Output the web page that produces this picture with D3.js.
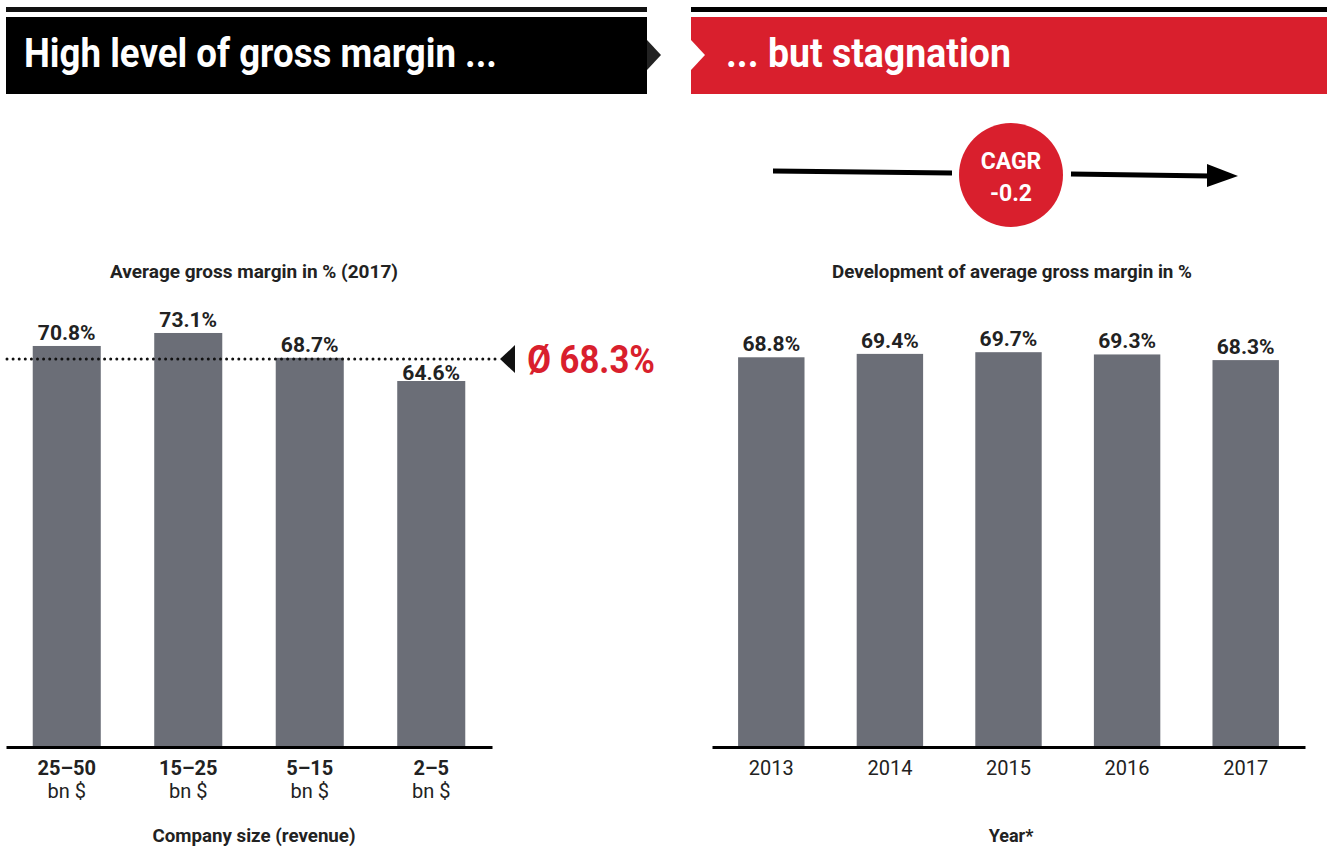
<!DOCTYPE html>
<html>
<head>
<meta charset="utf-8">
<script src="https://cdn.jsdelivr.net/npm/d3@7"></script>
<style>
  body { margin: 0; background: #fff; }
  text { font-family: Roboto, "Noto Sans", sans-serif; }
</style>
</head>
<body>
<div id="chart"></div>
<script>
// left chart: margin by company size (2017)
const sizeCats = ["25–50", "15–25", "5–15", "2–5"];
const sizeValues = [70.8, 73.1, 68.7, 64.6];
const sizeUnit = "bn $";
const average = 68.3;

// right chart: development by year
const years = ["2013", "2014", "2015", "2016", "2017"];
const yearValues = [68.8, 69.4, 69.7, 69.3, 68.3];
const cagr = "-0.2";

const width = 1327, height = 855;
const barColor = "#6b6e77", red = "#d91f2d", ink = "#222";

const svg = d3.select("#chart").append("svg")
    .attr("width", width)
    .attr("height", height);

// ---------- headers ----------
svg.append("rect").attr("x", 6).attr("y", 7).attr("width", 641).attr("height", 5).attr("fill", "#111");
svg.append("rect").attr("x", 6).attr("y", 17).attr("width", 641).attr("height", 77).attr("fill", "#000");
svg.append("path").attr("d", "M647,40 L661,55 L647,70 Z").attr("fill", "#222");
svg.append("text")
    .attr("x", 24).attr("y", 67)
    .attr("fill", "#fff").attr("font-size", 41).attr("font-weight", 700)
    .attr("textLength", 473).attr("lengthAdjust", "spacingAndGlyphs")
    .text("High level of gross margin ...");

svg.append("rect").attr("x", 691).attr("y", 7).attr("width", 636).attr("height", 5).attr("fill", "#000");
svg.append("rect").attr("x", 691).attr("y", 17).attr("width", 636).attr("height", 77).attr("fill", red);
svg.append("path").attr("d", "M691,40 L705,55 L691,70 Z").attr("fill", "#fff");
svg.append("text")
    .attr("x", 726).attr("y", 67)
    .attr("fill", "#fff").attr("font-size", 41).attr("font-weight", 700)
    .attr("textLength", 285).attr("lengthAdjust", "spacingAndGlyphs")
    .text("... but stagnation");

// ---------- CAGR arrow ----------
svg.append("line").attr("x1", 773).attr("y1", 171).attr("x2", 952).attr("y2", 173)
    .attr("stroke", "#000").attr("stroke-width", 5);
svg.append("line").attr("x1", 1071).attr("y1", 174).attr("x2", 1210).attr("y2", 176)
    .attr("stroke", "#000").attr("stroke-width", 5);
svg.append("path").attr("d", "M1207,164 L1238,176 L1207,187 Z").attr("fill", "#000");
svg.append("circle").attr("cx", 1011).attr("cy", 175).attr("r", 52).attr("fill", red);
svg.append("text").attr("x", 1011).attr("y", 169).attr("text-anchor", "middle")
    .attr("fill", "#fff").attr("font-size", 23).attr("font-weight", 700)
    .text("CAGR");
svg.append("text").attr("x", 1011).attr("y", 201).attr("text-anchor", "middle")
    .attr("fill", "#fff").attr("font-size", 23).attr("font-weight", 700)
    .text(cagr);

// ---------- shared y scale ----------
const baseY = 746;
const y = d3.scaleLinear().domain([0, 100]).range([baseY, baseY - 565]);

function drawBars(cats, values, x0, x1, cls, refLine) {
    const x = d3.scaleBand().domain(cats).range([x0, x1])
        .paddingInner(0.44).paddingOuter(0.22);
    const g = svg.append("g").attr("class", cls);
    g.selectAll("rect.bar")
        .data(cats)
        .enter().append("rect")
        .attr("class", "bar")
        .attr("x", d => x(d))
        .attr("width", x.bandwidth())
        .attr("y", (d, i) => y(values[i]))
        .attr("height", (d, i) => baseY - y(values[i]))
        .attr("fill", barColor);
    // label sits just above the bar; pushed down if it would cross the reference line
    const labelY = v => {
        let ly = y(v) - 6;
        if (refLine != null && ly > y(refLine) && ly - 16 < y(refLine) + 2) ly = y(v) - 1;
        return ly;
    };
    g.selectAll("text.val")
        .data(cats)
        .enter().append("text")
        .attr("class", "val")
        .attr("x", d => x(d) + x.bandwidth() / 2)
        .attr("y", (d, i) => labelY(values[i]))
        .attr("text-anchor", "middle")
        .attr("font-size", 21).attr("font-weight", 700).attr("fill", ink)
        .text((d, i) => values[i].toFixed(1) + "%");
    const axis = g.append("g")
        .attr("transform", `translate(0,${baseY + 1})`)
        .call(d3.axisBottom(x).tickSize(0).tickSizeOuter(0).tickFormat(""));
    axis.select(".domain").attr("stroke", "#000").attr("stroke-width", 3);
    return x;
}

// ---------- left chart ----------
const xl = drawBars(sizeCats, sizeValues, 6, 492, "left", average);
svg.append("text").attr("x", 254).attr("y", 278).attr("text-anchor", "middle")
    .attr("font-size", 18).attr("font-weight", 700).attr("fill", ink)
    .attr("textLength", 288).attr("lengthAdjust", "spacingAndGlyphs")
    .text("Average gross margin in % (2017)");

svg.append("line")
    .attr("x1", 7).attr("x2", 496)
    .attr("y1", y(average) - 1).attr("y2", y(average) - 1)
    .attr("stroke", "#111").attr("stroke-width", 3)
    .attr("stroke-linecap", "round")
    .attr("stroke-dasharray", "0,6.1");
svg.append("path")
    .attr("d", `M500,${y(average) - 1} L515,${y(average) - 15} L515,${y(average) + 13} Z`)
    .attr("fill", "#111");
svg.append("text").attr("x", 527).attr("y", y(average) + 13)
    .attr("fill", red).attr("font-size", 38).attr("font-weight", 700)
    .attr("textLength", 128).attr("lengthAdjust", "spacingAndGlyphs")
    .text("Ø " + average.toFixed(1) + "%");

svg.selectAll("text.cat")
    .data(sizeCats)
    .enter().append("text")
    .attr("class", "cat")
    .attr("x", d => xl(d) + xl.bandwidth() / 2)
    .attr("y", 775)
    .attr("text-anchor", "middle")
    .attr("font-size", 20).attr("font-weight", 700).attr("fill", ink)
    .text(d => d);
svg.selectAll("text.unit")
    .data(sizeCats)
    .enter().append("text")
    .attr("class", "unit")
    .attr("x", d => xl(d) + xl.bandwidth() / 2)
    .attr("y", 798)
    .attr("text-anchor", "middle")
    .attr("font-size", 20).attr("fill", ink)
    .text(sizeUnit);
svg.append("text").attr("x", 254).attr("y", 842).attr("text-anchor", "middle")
    .attr("font-size", 18).attr("font-weight", 700).attr("fill", ink)
    .attr("textLength", 203).attr("lengthAdjust", "spacingAndGlyphs")
    .text("Company size (revenue)");

// ---------- right chart ----------
const xr = drawBars(years, yearValues, 712, 1305, "right", null);
svg.append("text").attr("x", 1012).attr("y", 278).attr("text-anchor", "middle")
    .attr("font-size", 18).attr("font-weight", 700).attr("fill", ink)
    .attr("textLength", 360).attr("lengthAdjust", "spacingAndGlyphs")
    .text("Development of average gross margin in %");

svg.selectAll("text.year")
    .data(years)
    .enter().append("text")
    .attr("class", "year")
    .attr("x", d => xr(d) + xr.bandwidth() / 2)
    .attr("y", 775)
    .attr("text-anchor", "middle")
    .attr("font-size", 20).attr("fill", ink)
    .text(d => d);
svg.append("text").attr("x", 1011).attr("y", 842).attr("text-anchor", "middle")
    .attr("font-size", 18).attr("font-weight", 700).attr("fill", ink)
    .text("Year*");
</script>
</body>
</html>
